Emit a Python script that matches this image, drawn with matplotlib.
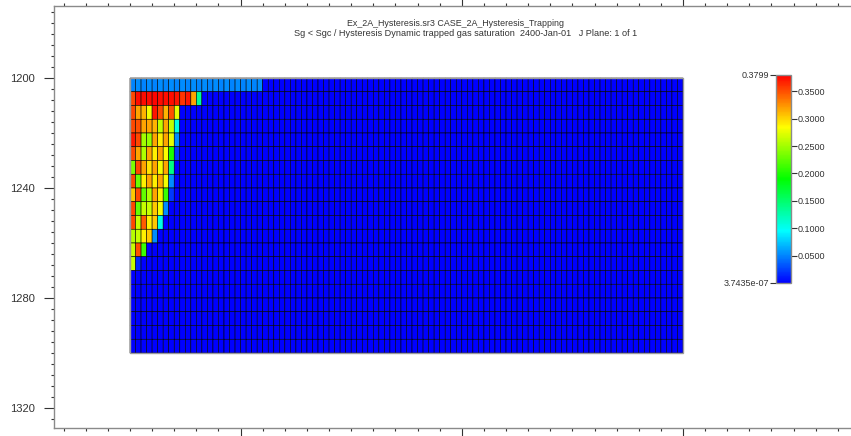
import numpy as np
import matplotlib
matplotlib.use("Agg")
import matplotlib.pyplot as plt
from matplotlib.colors import LinearSegmentedColormap
from matplotlib.ticker import MultipleLocator, FormatStrFormatter, NullFormatter
from matplotlib.patches import Rectangle

plt.rcParams['font.family'] = ['Liberation Sans', 'DejaVu Sans']

# grid : 100 blocs en I, 20 couches de 5 ft en K
N_I = 100
PROF_HAUT = 1200
EP_COUCHE = 5
N_K = 20

V_MIN = 3.7435e-07
V_MAX = 0.3799
FOND = 0.0005   # quasi nul partout ailleurs

# valeurs lues couche par couche, a partir de la gauche
couche_0 = [0.050, 0.053, 0.050, 0.053, 0.050, 0.053, 0.050, 0.053, 0.050, 0.053,
            0.050, 0.053, 0.050, 0.053, 0.050, 0.053, 0.050, 0.053, 0.050, 0.053,
            0.050, 0.053, 0.050, 0.053]
couche_1 = [0.352, 0.375, 0.375, 0.375, 0.378, 0.375, 0.375, 0.375, 0.372, 0.360,
            0.372, 0.318, 0.134]
couche_2 = [0.352, 0.318, 0.312, 0.279, 0.372, 0.352, 0.312, 0.350, 0.276]
couche_3 = [0.352, 0.350, 0.318, 0.318, 0.312, 0.260, 0.318, 0.262, 0.104]
couche_4 = [0.370, 0.352, 0.250, 0.246, 0.318, 0.290, 0.318, 0.275, 0.052]
couche_5 = [0.352, 0.318, 0.255, 0.318, 0.290, 0.318, 0.285, 0.200, 0.022]
couche_6 = [0.235, 0.352, 0.318, 0.295, 0.318, 0.279, 0.318, 0.141]
couche_7 = [0.352, 0.230, 0.290, 0.318, 0.290, 0.318, 0.280, 0.052]
couche_8 = [0.305, 0.352, 0.227, 0.255, 0.318, 0.290, 0.212, 0.022]
couche_9 = [0.352, 0.227, 0.264, 0.264, 0.305, 0.279, 0.052]
couche_10 = [0.352, 0.264, 0.345, 0.290, 0.305, 0.104]
couche_11 = [0.258, 0.264, 0.290, 0.305, 0.052]
couche_12 = [0.264, 0.350, 0.212]
couche_13 = [0.264, 0.015]

couches = [couche_0, couche_1, couche_2, couche_3, couche_4, couche_5, couche_6,
           couche_7, couche_8, couche_9, couche_10, couche_11, couche_12, couche_13]

ticks_cb = [0.05, 0.10, 0.15, 0.20, 0.25, 0.30, 0.35]

titre_1 = "Ex_2A_Hysteresis.sr3 CASE_2A_Hysteresis_Trapping"
titre_2 = "Sg < Sgc / Hysteresis Dynamic trapped gas saturation  2400-Jan-01   J Plane: 1 of 1"


def main():
    sg = np.full((N_K, N_I), FOND)
    for k, vals in enumerate(couches):
        sg[k, :len(vals)] = vals

    x_bords = np.arange(N_I + 1)
    z_bords = PROF_HAUT + EP_COUCHE * np.arange(N_K + 1)

    cmap = LinearSegmentedColormap.from_list(
        "arc", ["#0000ff", "#00ffff", "#00ff00", "#ffff00", "#ff0000"])

    W, H = 851, 436
    fig = plt.figure(figsize=(W / 100, H / 100), dpi=100)
    ax = fig.add_axes([54 / W, (H - 428) / H, 814 / W, 422 / H])

    maille = ax.pcolormesh(x_bords, z_bords, sg, cmap=cmap, vmin=V_MIN, vmax=V_MAX,
                           edgecolors="#000000", linewidth=0.4, antialiased=True,
                           snap=False)
    ax.add_patch(Rectangle((0, PROF_HAUT), N_I, N_K * EP_COUCHE, fill=False,
                           edgecolor="#9a9a9a", linewidth=1.0))

    px = 5.53  # pixels par bloc
    ax.set_xlim((54 - 130) / px, (868 - 130) / px)
    ax.set_ylim(PROF_HAUT + (428 - 78) / 2.75, PROF_HAUT - (78 - 6) / 2.75)

    ax.xaxis.set_minor_locator(MultipleLocator(4))
    ax.xaxis.set_major_formatter(NullFormatter())
    ax.set_xticks(np.arange(20, 140, 40))
    ax.yaxis.set_major_locator(MultipleLocator(40))
    ax.yaxis.set_minor_locator(MultipleLocator(4))

    ax.tick_params(axis="x", which="both", direction="out", top=True, bottom=True,
                   labelbottom=False, labeltop=False, colors="#333333")
    ax.tick_params(axis="x", which="major", length=7, width=0.8)
    ax.tick_params(axis="x", which="minor", length=2.5, width=0.8)
    ax.tick_params(axis="y", which="major", direction="out", length=7.5, width=0.8,
                   pad=6, labelsize=8, colors="#333333")
    ax.tick_params(axis="y", which="minor", direction="out", length=2, width=0.8,
                   colors="#333333")
    for nom, sp in ax.spines.items():
        sp.set_color("#8a8a8a")
        sp.set_linewidth(1.0)
    ax.spines["right"].set_visible(False)

    fig.text(455 / W, 1 - 24 / H, titre_1, ha="center", va="center", fontsize=6.4,
             color="#333333")
    fig.text(466 / W, 1 - 33.5 / H, titre_2, ha="center", va="center", fontsize=6.6,
             color="#333333")

    # barre de couleurs
    cax = fig.add_axes([776 / W, (H - 283) / H, 15 / W, 208 / H])
    cb = fig.colorbar(maille, cax=cax, ticks=ticks_cb)
    cb.ax.yaxis.set_major_formatter(FormatStrFormatter("%.4f"))
    cb.ax.tick_params(labelsize=6.5, length=4, width=0.8, pad=1, colors="#333333")
    cb.outline.set_edgecolor("#8a8a8a")
    cb.outline.set_linewidth(1.0)
    gauche = cax.secondary_yaxis("left")
    gauche.set_yticks([V_MIN, V_MAX], labels=["3.7435e-07", "0.3799"])
    gauche.tick_params(labelsize=6.5, length=4, width=0.8, pad=1, colors="#333333")
    gauche.spines["left"].set_visible(False)

    fig.savefig("out.png", dpi=100)


main()
